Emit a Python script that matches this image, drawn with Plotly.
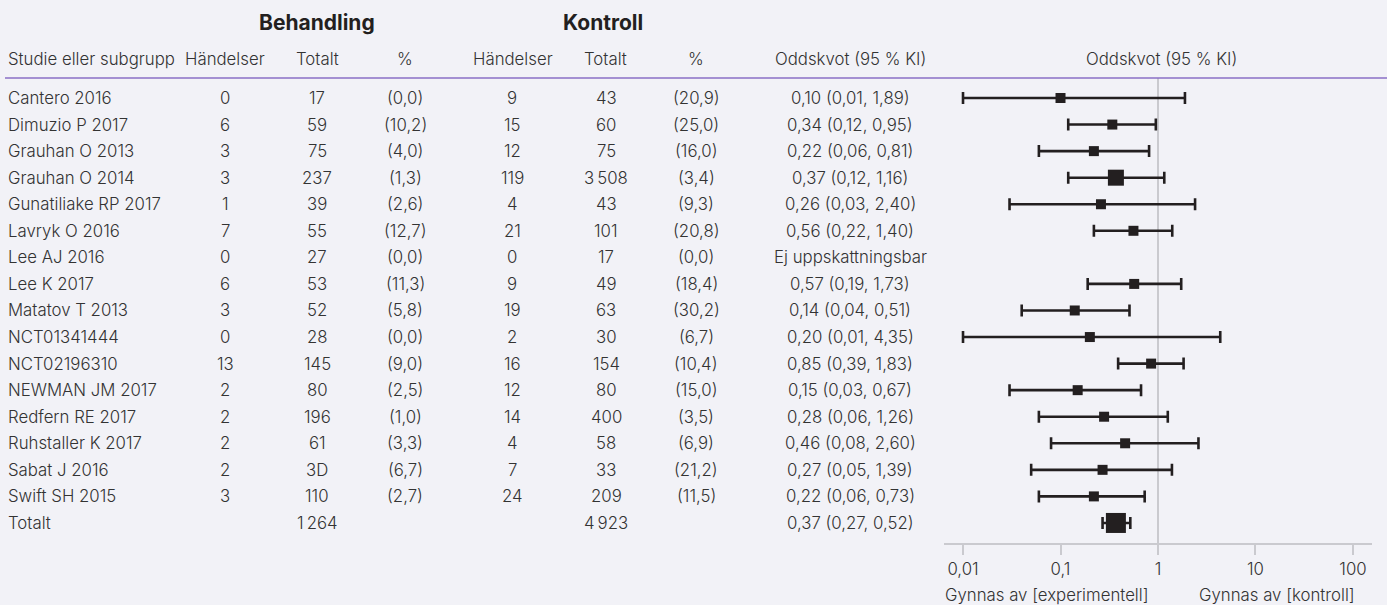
import plotly.graph_objects as go

# ---------------- data ----------------
studies = ["Cantero 2016", "Dimuzio P 2017", "Grauhan O 2013", "Grauhan O 2014",
           "Gunatiliake RP 2017", "Lavryk O 2016", "Lee AJ 2016", "Lee K 2017",
           "Matatov T 2013", "NCT01341444", "NCT02196310", "NEWMAN JM 2017",
           "Redfern RE 2017", "Ruhstaller K 2017", "Sabat J 2016", "Swift SH 2015"]
b_events = ["0", "6", "3", "3", "1", "7", "0", "6", "3", "0", "13", "2", "2", "2", "2", "3"]
b_total = ["17", "59", "75", "237", "39", "55", "27", "53", "52", "28", "145", "80", "196", "61", "3D", "110"]
b_pct = ["(0,0)", "(10,2)", "(4,0)", "(1,3)", "(2,6)", "(12,7)", "(0,0)", "(11,3)", "(5,8)",
         "(0,0)", "(9,0)", "(2,5)", "(1,0)", "(3,3)", "(6,7)", "(2,7)"]
k_events = ["9", "15", "12", "119", "4", "21", "0", "9", "19", "2", "16", "12", "14", "4", "7", "24"]
k_total = ["43", "60", "75", "3\u2009508", "43", "101", "17", "49", "63", "30", "154", "80", "400", "58", "33", "209"]
k_pct = ["(20,9)", "(25,0)", "(16,0)", "(3,4)", "(9,3)", "(20,8)", "(0,0)", "(18,4)", "(30,2)",
         "(6,7)", "(10,4)", "(15,0)", "(3,5)", "(6,9)", "(21,2)", "(11,5)"]
odds = [0.10, 0.34, 0.22, 0.37, 0.26, 0.56, None, 0.57, 0.14, 0.20, 0.85, 0.15, 0.28, 0.46, 0.27, 0.22]
ci_lo = [0.01, 0.12, 0.06, 0.12, 0.03, 0.22, None, 0.19, 0.04, 0.01, 0.39, 0.03, 0.06, 0.08, 0.05, 0.06]
ci_hi = [1.89, 0.95, 0.81, 1.16, 2.40, 1.40, None, 1.73, 0.51, 4.35, 1.83, 0.67, 1.26, 2.60, 1.39, 0.73]
not_estimable = "Ej uppskattningsbar"

total_label = "Totalt"
total_b = "1\u2009264"
total_k = "4\u2009923"
total_or, total_lo, total_hi = 0.37, 0.27, 0.52

tick_vals = [0.01, 0.1, 1, 10, 100]
tick_text = ["0,01", "0,1", "1", "10", "100"]

group_headers = ["Behandling", "Kontroll"]
col_headers = ["Studie eller subgrupp", "Händelser", "Totalt", "%", "Händelser", "Totalt", "%",
               "Oddskvot (95 % KI)", "Oddskvot (95 % KI)"]
favours = ["Gynnas av [experimentell]", "Gynnas av [kontroll]"]

# ---------------- style ----------------
W, H = 1387, 605
BG = "#f2f2f7"
TXT = "#333333"
INK = "#231f20"
GRID = "#cacacf"
PURPLE = "#8a6fc6"
FONT = "Inter"
FS = 16.8
ROW0, ROWH = 98, 26.56
TOP_PX, AXIS_PX = 78, 543
BIG_SIZE = {"Grauhan O 2014": 16}
SMALL = 10


def px_to_row(p):
    return (p - ROW0) / ROWH


def ppx(p):
    return 1 - p / H


def fmt(v):
    return f"{v:.2f}".replace(".", ",")


n = len(studies)
rows = list(range(n))
total_row = n

fig = go.Figure()

# reference line at OR = 1
fig.add_trace(go.Scatter(x=[1, 1], y=[px_to_row(TOP_PX), px_to_row(AXIS_PX)], mode="lines",
                         line=dict(color=GRID, width=2), hoverinfo="skip", showlegend=False))

# study CIs
xs, ys, ep, em, sizes = [], [], [], [], []
for i, s in enumerate(studies):
    if odds[i] is None:
        continue
    xs.append(odds[i]); ys.append(i)
    ep.append(ci_hi[i] - odds[i]); em.append(odds[i] - ci_lo[i])
    sizes.append(BIG_SIZE.get(s, SMALL))

fig.add_trace(go.Scatter(
    x=xs, y=ys, mode="markers",
    marker=dict(symbol="square", size=sizes, color=INK, opacity=1, line=dict(width=0)),
    error_x=dict(type="data", symmetric=False, array=ep, arrayminus=em,
                 color=INK, thickness=2.6, width=6),
    showlegend=False, hoverinfo="skip"))

fig.add_trace(go.Scatter(
    x=[total_or], y=[total_row], mode="markers",
    marker=dict(symbol="square", size=20, color=INK, opacity=1, line=dict(width=0)),
    error_x=dict(type="data", symmetric=False, array=[total_hi - total_or],
                 arrayminus=[total_or - total_lo], color=INK, thickness=2.6, width=6),
    showlegend=False, hoverinfo="skip"))

ann = []


def add(text, x, y, yref="y", anchor="center", size=FS, bold=False):
    ann.append(dict(text=f"<b>{text}</b>" if bold else text, x=x / W, y=y, xref="paper", yref=yref,
                    xanchor=anchor, yanchor="middle", showarrow=False,
                    font=dict(family=FONT, size=size, color=TXT if not bold else INK,
                              weight=700 if bold else 300)))


# group headers
add(group_headers[0], 317, ppx(23), "paper", size=21, bold=True)
add(group_headers[1], 603, ppx(23), "paper", size=21, bold=True)

# column headers
hx = [6, 225, 317, 405, 513, 605, 696, 850, 1161]
for j, (h, x) in enumerate(zip(col_headers, hx)):
    add(h, x, ppx(59), "paper", anchor="left" if j == 0 else "center")

# rows
cx = [225, 317, 405, 512, 606, 696, 850]
for i in rows:
    add(studies[i], 6, i, anchor="left")
    vals = [b_events[i], b_total[i], b_pct[i], k_events[i], k_total[i], k_pct[i],
            not_estimable if odds[i] is None else f"{fmt(odds[i])} ({fmt(ci_lo[i])}, {fmt(ci_hi[i])})"]
    for v, x in zip(vals, cx):
        add(v, x, i)

add(total_label, 6, total_row, anchor="left")
add(total_b, 317, total_row)
add(total_k, 606, total_row)
add(f"{fmt(total_or)} ({fmt(total_lo)}, {fmt(total_hi)})", 850, total_row)

# favours labels
add(favours[0], 1047, ppx(595), "paper")
add(favours[1], 1277, ppx(595), "paper")

shapes = [dict(type="line", xref="paper", yref="paper", x0=5 / W, x1=1, y0=ppx(TOP_PX), y1=ppx(TOP_PX),
               line=dict(color=PURPLE, width=1.6))]

fig.update_layout(
    width=W, height=H, margin=dict(l=0, r=0, t=0, b=0),
    paper_bgcolor=BG, plot_bgcolor=BG,
    annotations=ann, shapes=shapes,
    xaxis=dict(type="log", range=[-2.195, 2.195], domain=[944 / W, 1372 / W],
               showgrid=False, zeroline=False, showline=True, linecolor=GRID, linewidth=2,
               ticks="outside", ticklen=10, tickwidth=2, tickcolor=GRID,
               tickvals=tick_vals, ticktext=tick_text,
               tickfont=dict(family=FONT, size=FS, color=TXT, weight=300)),
    yaxis=dict(range=[px_to_row(AXIS_PX), px_to_row(TOP_PX)], domain=[ppx(AXIS_PX), ppx(TOP_PX)],
               visible=False, showgrid=False, zeroline=False),
    showlegend=False,
)

fig.write_html("out.html", config={"displayModeBar": False},
               post_script="document.body.style.margin='0';document.body.style.background='" + BG + "';")
